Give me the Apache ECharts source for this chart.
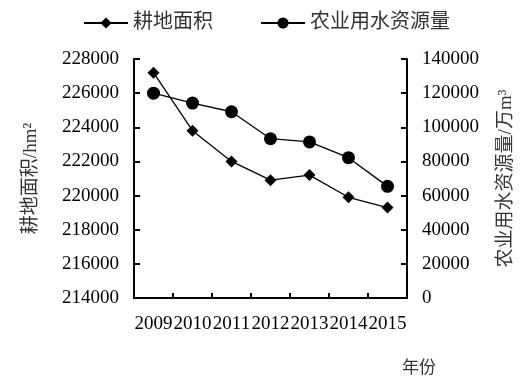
<!DOCTYPE html>
<html>
<head>
<meta charset="utf-8">
<script src="https://cdn.jsdelivr.net/npm/echarts@6/dist/echarts.min.js"></script>
<style>html,body{margin:0;padding:0;background:#fff;}#c{width:532px;height:388px;}</style>
</head>
<body>
<div id="c"></div>
<script>
const years = ['2009','2010','2011','2012','2013','2014','2015'];
const landArea = [227200, 223800, 222000, 220900, 221200, 219900, 219300];
const waterUse = [120000, 114200, 109100, 93300, 91400, 82200, 65400];
const seriesNames = ['耕地面积', '农业用水资源量'];
const leftAxisName = '耕地面积/hm²';
const rightAxisName = '农业用水资源量/万m³';
const xAxisName = '年份';

const serif = "'Liberation Serif','Noto Sans CJK SC',serif";
const chart = echarts.init(document.getElementById('c'), null, {renderer: 'canvas'});
const axisLine = {show: true, lineStyle: {color: '#000', width: 2}};
const plain = v => String(v);
chart.setOption({
  animation: false,
  backgroundColor: '#fff',
  legend: {
    left: 78, top: 8,
    itemWidth: 44, itemHeight: 14, itemGap: 47,
    textStyle: {fontFamily: serif, fontSize: 20, color: '#333'},
    data: seriesNames
  },
  grid: {left: 134, right: 125, top: 59, bottom: 90},
  xAxis: {
    type: 'category',
    data: years,
    boundaryGap: true,
    axisLine: axisLine,
    axisTick: {show: true, inside: true, length: 5, lineStyle: {color: '#000', width: 2}},
    axisLabel: {interval: 0, margin: 17, fontFamily: serif, fontSize: 19, color: '#000'}
  },
  yAxis: [
    {
      type: 'value', min: 214000, max: 228000, interval: 2000,
      name: leftAxisName, nameLocation: 'middle', nameRotate: 90, nameGap: 93,
      nameTextStyle: {fontFamily: serif, fontSize: 19, color: '#333'},
      axisLine: axisLine,
      axisTick: {show: true, inside: true, length: 6, lineStyle: {color: '#000', width: 2}},
      splitLine: {show: false},
      axisLabel: {margin: 15, fontFamily: serif, fontSize: 19, color: '#000', formatter: plain}
    },
    {
      type: 'value', min: 0, max: 140000, interval: 20000,
      name: rightAxisName, nameLocation: 'middle', nameRotate: 90, nameGap: 90,
      nameTextStyle: {fontFamily: serif, fontSize: 19, color: '#333'},
      axisLine: axisLine,
      axisTick: {show: true, inside: true, length: 6, lineStyle: {color: '#000', width: 2}},
      splitLine: {show: false},
      axisLabel: {margin: 15, fontFamily: serif, fontSize: 19, color: '#000', formatter: plain}
    }
  ],
  graphic: [{
    type: 'text', left: 402, top: 358,
    style: {text: xAxisName, font: "17px 'Noto Sans CJK SC', serif", fill: '#333'}
  }],
  series: [
    {
      name: seriesNames[0], type: 'line', yAxisIndex: 0, data: landArea,
      symbol: 'diamond', symbolSize: 12,
      lineStyle: {color: '#000', width: 1.3},
      itemStyle: {color: '#000'}
    },
    {
      name: seriesNames[1], type: 'line', yAxisIndex: 1, data: waterUse,
      symbol: 'circle', symbolSize: 13,
      lineStyle: {color: '#000', width: 1.3},
      itemStyle: {color: '#000'}
    }
  ]
});
</script>
</body>
</html>
